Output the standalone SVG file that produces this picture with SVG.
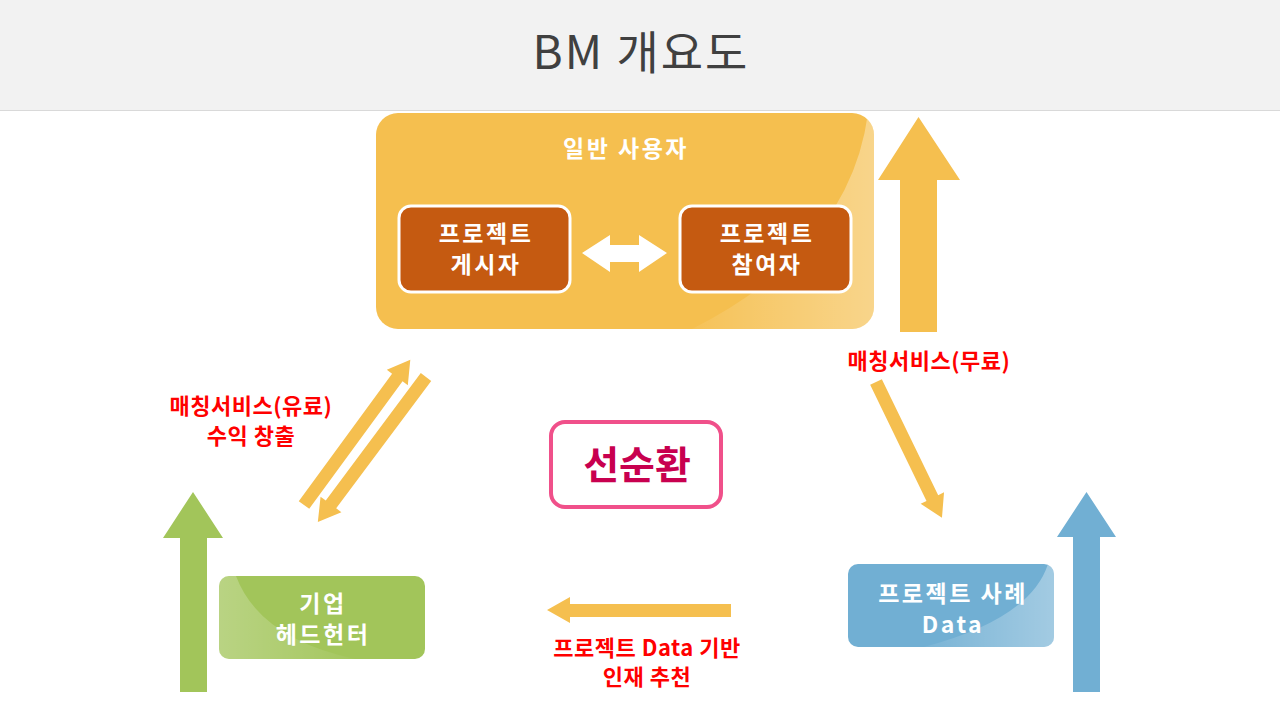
<svg xmlns="http://www.w3.org/2000/svg" width="1280" height="720" viewBox="0 0 1280 720">
<defs>
<style>
.k{font-family:"Noto Sans CJK KR","Malgun Gothic",sans-serif;}
.w{fill:#fff;font-weight:bold;font-size:23px;letter-spacing:2.5px;text-anchor:middle;}
.r{fill:#FF0000;font-weight:bold;font-size:22px;letter-spacing:0.5px;text-anchor:middle;}
.y{fill:#F5BF4F;}
</style>
<linearGradient id="gl" x1="0" y1="0" x2="1" y2="0">
<stop offset="0" stop-color="#fff" stop-opacity="0.05"/>
<stop offset="1" stop-color="#fff" stop-opacity="0.35"/>
</linearGradient>
<linearGradient id="gl2" x1="1" y1="0" x2="0" y2="0">
<stop offset="0" stop-color="#fff" stop-opacity="0.02"/>
<stop offset="1" stop-color="#fff" stop-opacity="0.25"/>
</linearGradient>
<clipPath id="cy"><rect x="376" y="113" width="498" height="216" rx="22"/></clipPath>
<clipPath id="cg"><rect x="219" y="576" width="206" height="83" rx="10"/></clipPath>
<clipPath id="cb"><rect x="848" y="564" width="206" height="83" rx="10"/></clipPath>
</defs>
<rect x="0" y="0" width="1280" height="720" fill="#fff"/>
<g id="header">
<rect x="0" y="0" width="1280" height="110" fill="#F2F2F2"/>
<line x1="0" y1="110.5" x2="1280" y2="110.5" stroke="#D9D9D9" stroke-width="1"/>
<text class="k" x="641" y="69" font-size="46" letter-spacing="2" fill="#404040" text-anchor="middle">BM 개요도</text>
</g>
<g id="users">
<rect x="376" y="113" width="498" height="216" rx="22" fill="#F5BF4F"/>
<path clip-path="url(#cy)" d="M868 113 Q850 250 690 330 L880 330 L880 113 Z" fill="url(#gl)"/>
<text class="k w" x="626" y="157" font-size="24" letter-spacing="1.5">일반 사용자</text>
</g>
<g id="poster">
<rect x="399" y="206" width="171" height="86" rx="12" fill="#C55A11" stroke="#fff" stroke-width="3"/>
<text class="k w" x="486" y="242">프로젝트</text>
<text class="k w" x="486" y="273">게시자</text>
</g>
<g id="participant">
<rect x="680" y="206" width="171" height="86" rx="12" fill="#C55A11" stroke="#fff" stroke-width="3"/>
<text class="k w" x="767" y="242">프로젝트</text>
<text class="k w" x="767" y="273">참여자</text>
</g>
<g id="cycle">
<rect x="551" y="422" width="170" height="85" rx="14" fill="#fff" stroke="#F0508A" stroke-width="4"/>
<text class="k" x="637" y="479" font-size="39" font-weight="bold" fill="#C8004F" text-anchor="middle">선순환</text>
</g>
<g id="company">
<rect x="219" y="576" width="206" height="83" rx="10" fill="#A2C55A"/>
<path clip-path="url(#cg)" d="M219 576 L236 576 Q260 640 360 660 L219 660 Z" fill="url(#gl2)"/>
<text class="k w" x="323" y="612" font-weight="500">기업</text>
<text class="k w" x="323" y="643" font-weight="500">헤드헌터</text>
</g>
<g id="data">
<rect x="848" y="564" width="206" height="83" rx="10" fill="#71AFD3"/>
<path clip-path="url(#cb)" d="M1048 564 Q1030 620 920 648 L1054 648 L1054 564 Z" fill="url(#gl)"/>
<text class="k w" x="953" y="602" letter-spacing="2">프로젝트 사례</text>
<text class="k w" x="953" y="633" letter-spacing="0.5">Data</text>
</g>
<g id="connectors">
<polygon fill="#fff" points="582,253 610,235 610,245 639,245 639,235 667,253 639,272 639,262 610,262 610,272"/>
<polygon class="y" points="900,332 900,180 878,180 918.5,117 960,180 937,180 937,332"/>
<polygon fill="#A2C55A" points="180,692 180,538 163,538 193,492 223,538 207,538 207,692"/>
<polygon fill="#71AFD3" points="1073,692 1073,537 1057,537 1086.5,492 1116,537 1100,537 1100,692"/>
<polygon class="y" points="731,604 570,604 570,597 547,610 570,623 570,617 731,617"/>
<g transform="translate(304,505) rotate(-53.8)"><polygon class="y" points="0,-6.5 158,-6.5 158,-13 180,0 158,13 158,6.5 0,6.5"/></g>
<g transform="translate(426,377) rotate(126.7)"><polygon class="y" points="0,-6.5 159,-6.5 159,-13 181,0 159,13 159,6.5 0,6.5"/></g>
<g transform="translate(876,382) rotate(64.1)"><polygon class="y" points="0,-6.5 129,-6.5 129,-13 151,0 129,13 129,6.5 0,6.5"/></g>
</g>
<g id="labels">
<text class="k r" x="929" y="369" font-size="21" letter-spacing="1">매칭서비스(무료)</text>
<text class="k r" x="251" y="414" font-size="25" letter-spacing="2">매칭서비스(유료)</text>
<text class="k r" x="251" y="444" font-size="25" letter-spacing="2">수익 창출</text>
<text class="k r" x="647" y="656">프로젝트 Data 기반</text>
<text class="k r" x="647" y="685">인재 추천</text>
</g>
</svg>
